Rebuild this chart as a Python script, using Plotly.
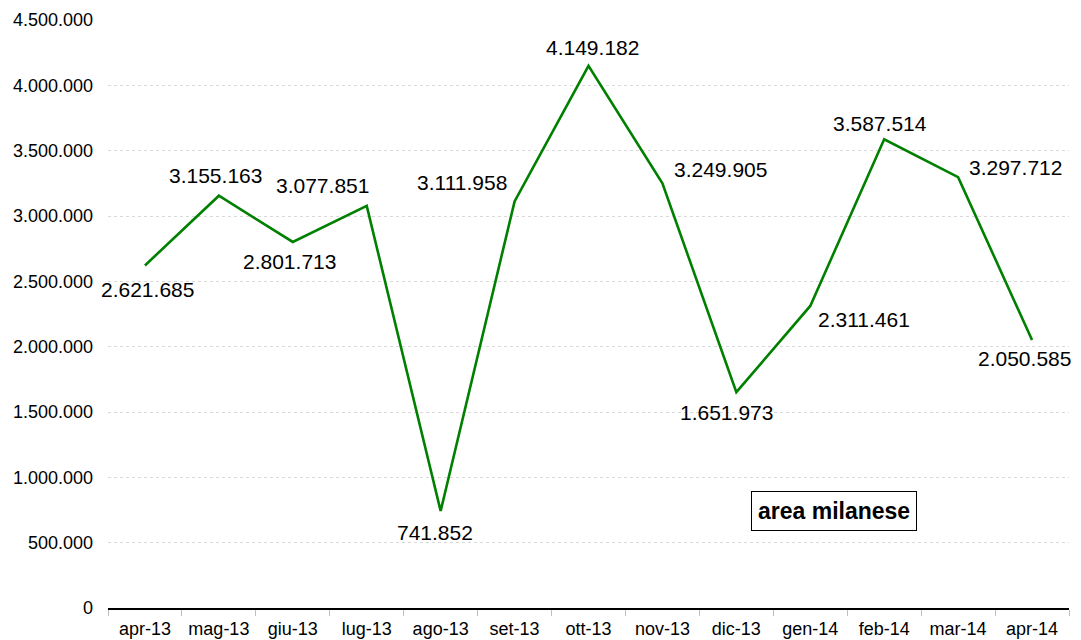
import plotly.graph_objects as go

months = ["apr-13", "mag-13", "giu-13", "lug-13", "ago-13", "set-13", "ott-13",
          "nov-13", "dic-13", "gen-14", "feb-14", "mar-14", "apr-14"]
values = [2621685, 3155163, 2801713, 3077851, 741852, 3111958, 4149182,
          3249905, 1651973, 2311461, 3587514, 3297712, 2050585]

# label offsets (px) relative to each point
label_dx = [3, -3, -3, -44, -6, -53, 4, 58, -10, 54, -4, 57, -8]
label_dy = [-24, 20, -20, 20, -21, 19, 18, 14, -20, -14, 16, 10, -18]

font = "Liberation Sans, Arial, sans-serif"

fig = go.Figure()
fig.add_trace(go.Scatter(
    x=months, y=values, mode="lines",
    line=dict(color="#008000", width=2.6),
    hoverinfo="x+y",
))

for m, v, dx, dy in zip(months, values, label_dx, label_dy):
    fig.add_annotation(
        x=m, y=v, text=f"{v:,}".replace(",", "."), showarrow=False,
        xshift=dx, yshift=dy, font=dict(size=21, color="black", family=font),
    )

fig.add_annotation(
    xref="paper", yref="paper", x=0.755, y=0.165,
    xanchor="center", yanchor="middle",
    text="<b>area milanese</b>", showarrow=False,
    font=dict(size=23, color="black", family=font),
    bordercolor="black", borderwidth=1, borderpad=6, bgcolor="white",
)

# page body has an 8px margin, so the figure is 8px smaller than the window
fig.update_layout(
    width=1073, height=632,
    margin=dict(l=100, r=12, t=12, b=32),
    paper_bgcolor="white", plot_bgcolor="white",
    separators=",.",
    showlegend=False,
    font=dict(family=font, color="black", size=18),
)
fig.update_xaxes(
    range=[-0.5, len(months) - 0.5],
    showline=True, linecolor="black", linewidth=2,
    ticks="outside", tickson="boundaries", ticklen=6, tickcolor="#bfbfbf",
    showgrid=False, tickfont=dict(size=18), automargin=False,
    ticklabelstandoff=3,
)
fig.update_yaxes(
    range=[0, 4500000], dtick=500000, tickformat=",d",
    showline=False, zeroline=False,
    showgrid=True, gridcolor="#d9d9d9", griddash="dot", gridwidth=1,
    ticks="", ticklabelstandoff=14, tickfont=dict(size=18), automargin=False,
)

fig.write_html("out.html")
